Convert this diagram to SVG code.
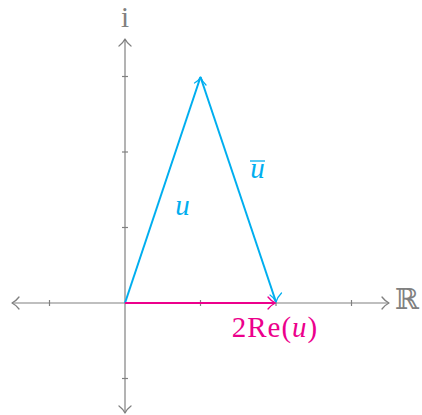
<svg xmlns="http://www.w3.org/2000/svg" width="422" height="415" viewBox="0 0 422 415">
<style>
.ax{stroke:#808080;stroke-width:1.2;fill:none}
.tk{stroke:#808080;stroke-width:1.2}
.ah{fill:none;stroke-width:1.3;stroke-linecap:round;stroke-linejoin:round}
.cy{stroke:#00AEEF;stroke-width:2;fill:none}
.mg{stroke:#EC008C;stroke-width:2.2;fill:none}
.t{font-family:"Liberation Serif","DejaVu Serif",serif;font-size:29px}
</style>
<g id="axes">
<line class="ax" x1="12" y1="303" x2="389" y2="303"/>
<line class="ax" x1="125" y1="39" x2="125" y2="413"/>
<path class="ah" stroke="#808080" d="M19,297 Q16,301 12,303 Q16,305 19,309"/>
<path class="ah" stroke="#808080" d="M382,297 Q385,301 389,303 Q385,305 382,309"/>
<path class="ah" stroke="#808080" d="M119,46 Q123,43 125,39 Q127,43 131,46"/>
<path class="ah" stroke="#808080" d="M119,406 Q123,409 125,413 Q127,409 131,406"/>
<g class="tk">
<line x1="49.5" y1="300" x2="49.5" y2="306"/>
<line x1="200.5" y1="300" x2="200.5" y2="306"/>
<line x1="276" y1="300" x2="276" y2="306"/>
<line x1="351.5" y1="300" x2="351.5" y2="306"/>
<line x1="122" y1="76.5" x2="128" y2="76.5"/>
<line x1="122" y1="152" x2="128" y2="152"/>
<line x1="122" y1="227.5" x2="128" y2="227.5"/>
<line x1="122" y1="378.5" x2="128" y2="378.5"/>
</g>
<text class="t" x="125" y="27" fill="#808080" text-anchor="middle" font-size="27">i</text>
<text class="t" x="419" y="309" fill="#808080" font-size="22" text-anchor="end">ℝ</text>
</g>
<g id="connectors">
<g id="edge-u">
<line class="cy" x1="125" y1="303" x2="200.5" y2="77"/>
<path class="ah" stroke="#00AEEF" stroke-width="1.8" d="M194.5,83 Q199,80.5 200.5,77 Q202,81 206,85"/>
</g>
<g id="edge-ubar">
<line class="cy" x1="200.5" y1="77" x2="276" y2="302"/>
<path class="ah" stroke="#00AEEF" stroke-width="1.8" d="M270,295 Q274,297.5 276,302 Q277.5,297 281.5,293"/>
</g>
<g id="edge-2re">
<line class="mg" x1="125" y1="303" x2="275" y2="303"/>
<path class="ah" stroke="#EC008C" stroke-width="1.8" d="M268,297 Q271,301 275.5,303 Q271,305 268,309"/>
</g>
</g>
<g id="labels">
<text class="t" x="182.5" y="215" fill="#00AEEF" font-style="italic" text-anchor="middle">u</text>
<g id="ubar">
<text class="t" x="257.5" y="178" fill="#00AEEF" font-style="italic" text-anchor="middle">u</text>
<line x1="250" y1="161" x2="265" y2="161" stroke="#00AEEF" stroke-width="1.3"/>
</g>
<text class="t" x="275" y="337" fill="#EC008C" text-anchor="middle" letter-spacing="1">2Re(<tspan font-style="italic">u</tspan>)</text>
</g>
</svg>
